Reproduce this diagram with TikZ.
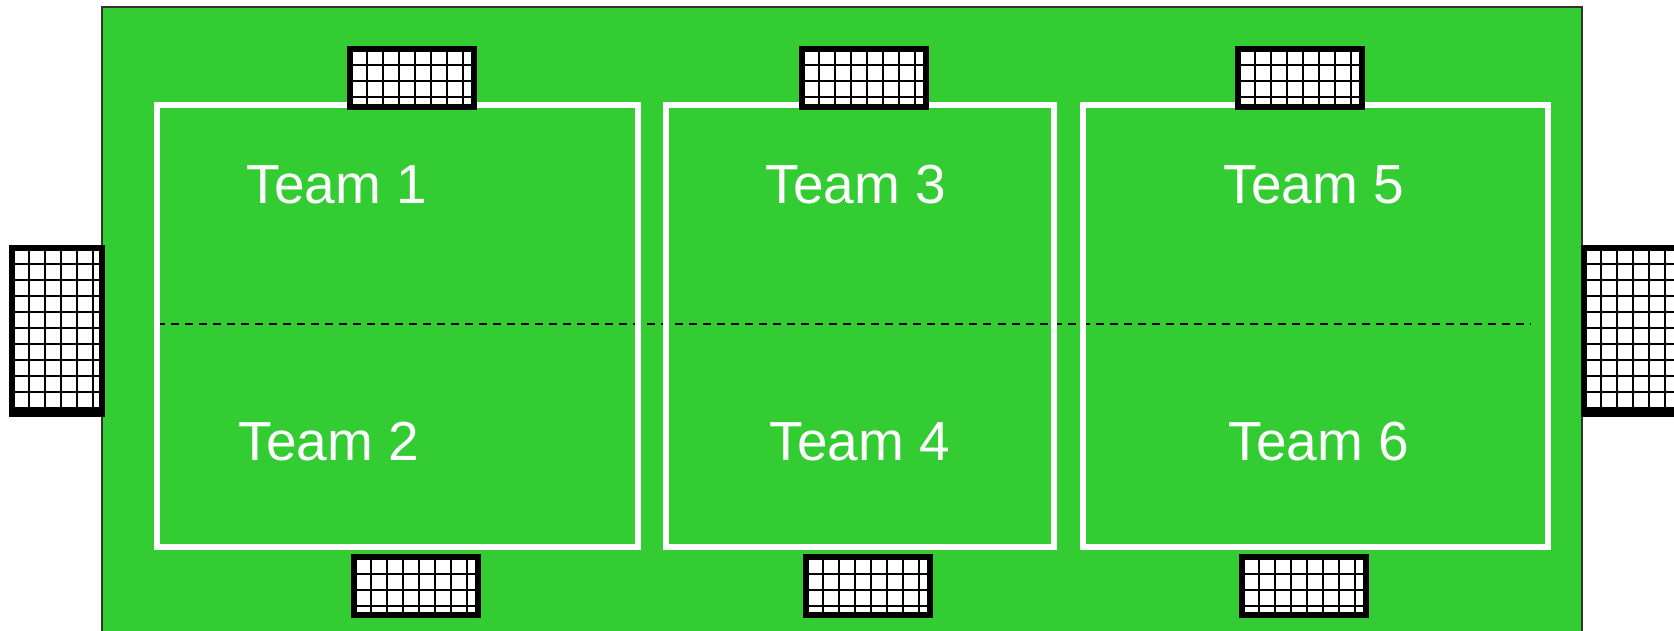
\documentclass[tikz,border=0pt]{standalone}
\usepackage{fontspec}
\setmainfont{Liberation Sans}
\usepackage{tikz}
\usepackage{xcolor}
\usetikzlibrary{arrows.meta,positioning,calc}
\definecolor{pitchgreen}{RGB}{51,204,51}

\newcommand{\goalnet}[5]{%
  \begin{scope}[shift={(#1,#2)}]
    \fill[white] (0,0) rectangle (#3,#4);
    \foreach \i in {17,33,...,#3} {\draw[netline] (\i,0) -- (\i,#4);}
    \foreach \j in {#5} {\draw[netline] (0,\j) -- (#3,\j);}
    \draw[goalframe] (0,0) rectangle (#3,#4);
  \end{scope}}

\begin{document}
\begin{tikzpicture}[x=0.01cm, y=-0.01cm,
    courtline/.style={draw=white, line width=1.55pt},
    netline/.style={black, line width=0.38pt},
    goalframe/.style={draw=black, line width=1.6pt},
    teamlabel/.style={text=white, anchor=base, inner sep=0pt, font=\fontsize{15.65}{18}\selectfont}]

  \useasboundingbox (0,0) rectangle (1674,630);
  \clip (0,0) rectangle (1674,630);

  % Pitch
  \draw[fill=pitchgreen, draw=black!80, line width=0.4pt] (102,7) rectangle (1582,650);

  % Halfway line
  \coordinate (midL) at (157,324);
  \coordinate (midR) at (1531,324);
  \draw[black, line width=0.5pt, dash pattern=on 0.08cm off 0.06cm] (midL) -- (midR);

  % Courts
  \draw[courtline] (157,105) rectangle (638,547);
  \draw[courtline] (666,105) rectangle (1054,547);
  \draw[courtline] (1083,105) rectangle (1548,547);

  % Goals at the top
  \goalnet{350}{49}{124}{58}{16,32,48}
  \goalnet{802}{49}{124}{58}{16,32,48}
  \goalnet{1238}{49}{124}{58}{16,32,48}
  % Goals at the bottom
  \goalnet{354}{557}{124}{58}{17,33,49}
  \goalnet{806}{557}{124}{58}{17,33,49}
  \goalnet{1242}{557}{124}{58}{17,33,49}
  % Goals at the sides
  \goalnet{12}{248}{90}{166}{16,32,...,160,162}
  \goalnet{1584}{248}{100}{166}{16,32,...,160,162}

  % Team labels
  \node[teamlabel] (T1) at (337,203) {Team 1};
  \node[teamlabel] (T2) at (329,460) {Team 2};
  \node[teamlabel] (T3) at (856,203) {Team 3};
  \node[teamlabel] (T4) at (860,460) {Team 4};
  \node[teamlabel] (T5) at (1314,203) {Team 5};
  \node[teamlabel] (T6) at (1319,460) {Team 6};
\end{tikzpicture}
\end{document}
